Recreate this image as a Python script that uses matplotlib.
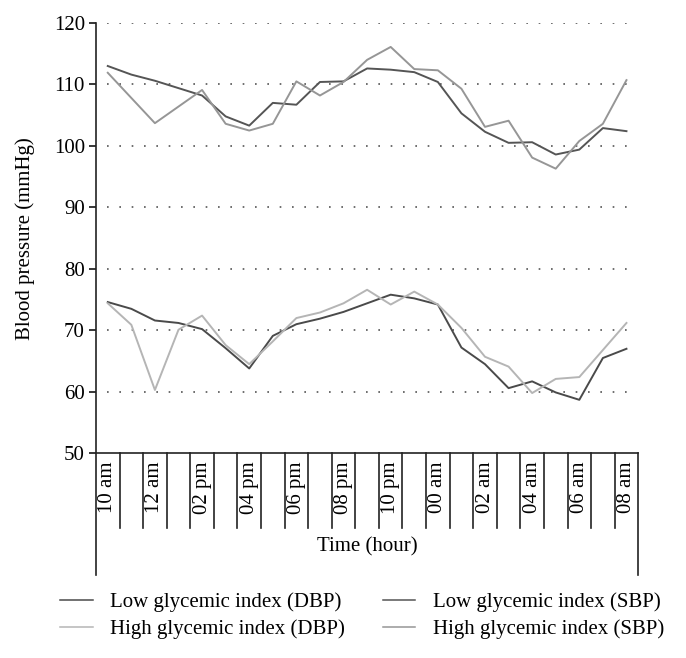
import matplotlib.pyplot as plt
from matplotlib.lines import Line2D

plt.rcParams['font.family'] = ['Liberation Serif', 'DejaVu Serif']

hours = ['10 am', '11 am', '12 am', '01 pm', '02 pm', '03 pm', '04 pm', '05 pm',
         '06 pm', '07 pm', '08 pm', '09 pm', '10 pm', '11 pm', '00 am', '01 am',
         '02 am', '03 am', '04 am', '05 am', '06 am', '07 am', '08 am']

low_dbp = [74.6, 73.5, 71.6, 71.2, 70.2, 67.1, 63.8, 69.1, 71.0, 71.9, 73.0, 74.4,
           75.8, 75.2, 74.2, 67.2, 64.5, 60.6, 61.7, 59.9, 58.7, 65.5, 67.0]
high_dbp = [74.4, 70.9, 60.3, 70.1, 72.4, 67.6, 64.5, 68.2, 72.0, 72.9, 74.4, 76.6,
            74.2, 76.3, 74.2, 70.4, 65.7, 64.1, 59.8, 62.1, 62.4, 66.8, 71.2]
low_sbp = [113.0, 111.6, 110.6, 109.4, 108.2, 104.8, 103.3, 107.0, 106.7, 110.4, 110.5, 112.6,
           112.4, 112.0, 110.4, 105.3, 102.3, 100.5, 100.6, 98.6, 99.4, 102.9, 102.4]
high_sbp = [111.9, 107.8, 103.7, 106.4, 109.1, 103.6, 102.5, 103.6, 110.5, 108.2, 110.4, 114.0,
            116.1, 112.5, 112.3, 109.3, 103.1, 104.1, 98.1, 96.3, 100.8, 103.6, 110.7]

fig = plt.figure(figsize=(6.86, 6.58), dpi=100)
ax = fig.add_axes([0.1399, 0.3111, 0.7905, 0.6540])

x = [i + 0.5 for i in range(len(hours))]
ax.plot(x, low_dbp, color='#4a4a4a', lw=1.4, label='Low glycemic index (DBP)')
ax.plot(x, high_dbp, color='#b5b5b5', lw=1.4, label='High glycemic index (DBP)')
ax.plot(x, low_sbp, color='#555555', lw=1.4, label='Low glycemic index (SBP)')
ax.plot(x, high_sbp, color='#969696', lw=1.4, label='High glycemic index (SBP)')

ax.set_xlim(0, len(hours))
ax.set_ylim(50, 120)
ax.set_yticks(range(50, 121, 10))
ax.tick_params(axis='y', direction='out', length=5, width=1.1, labelsize=15, pad=3)
ax.set_xticks([])

# dotted gridlines
ax.hlines(range(60, 121, 10), 0.45, len(hours) - 0.15, colors='#555555',
          linestyles=(0, (1, 6.4)), lw=1.2, zorder=0)

for s in ['top', 'right', 'bottom', 'left']:
    ax.spines[s].set_visible(False)
ax.axhline(50, color='#222222', lw=1.2, clip_on=False)

tr = ax.get_xaxis_transform()
# left and right frame lines, category separators
ax.add_line(Line2D([0, 0], [1, -0.283], transform=tr, color='#222222', lw=1.2, clip_on=False))
ax.add_line(Line2D([len(hours)] * 2, [0, -0.283], transform=tr, color='#222222', lw=1.2, clip_on=False))
for k in range(1, len(hours)):
    ax.add_line(Line2D([k, k], [0, -0.1736], transform=tr, color='#222222', lw=1.2, clip_on=False))

for i, h in enumerate(hours):
    if i % 2 == 0:
        ax.text(i + 0.5, -0.018, h, transform=tr, rotation=90, ha='center', va='top',
                fontsize=15)

ax.text(len(hours) / 2, -0.217, 'Time (hour)', transform=tr, ha='center', va='center',
        fontsize=15)
fig.text(0.036, 0.637, 'Blood pressure (mmHg)', rotation=90, ha='center', va='center',
         fontsize=15)

handles, labels = ax.get_legend_handles_labels()
leg = fig.legend(handles, labels, ncol=2, loc='upper left', bbox_to_anchor=(0.076, 0.112),
                 frameon=False, fontsize=15, handlelength=1.55, handletextpad=0.85,
                 columnspacing=1.8, labelspacing=0.34, borderaxespad=0)
for ln in leg.get_lines():
    ln.set_linewidth(1.1)

fig.savefig('out.png', dpi=100)
